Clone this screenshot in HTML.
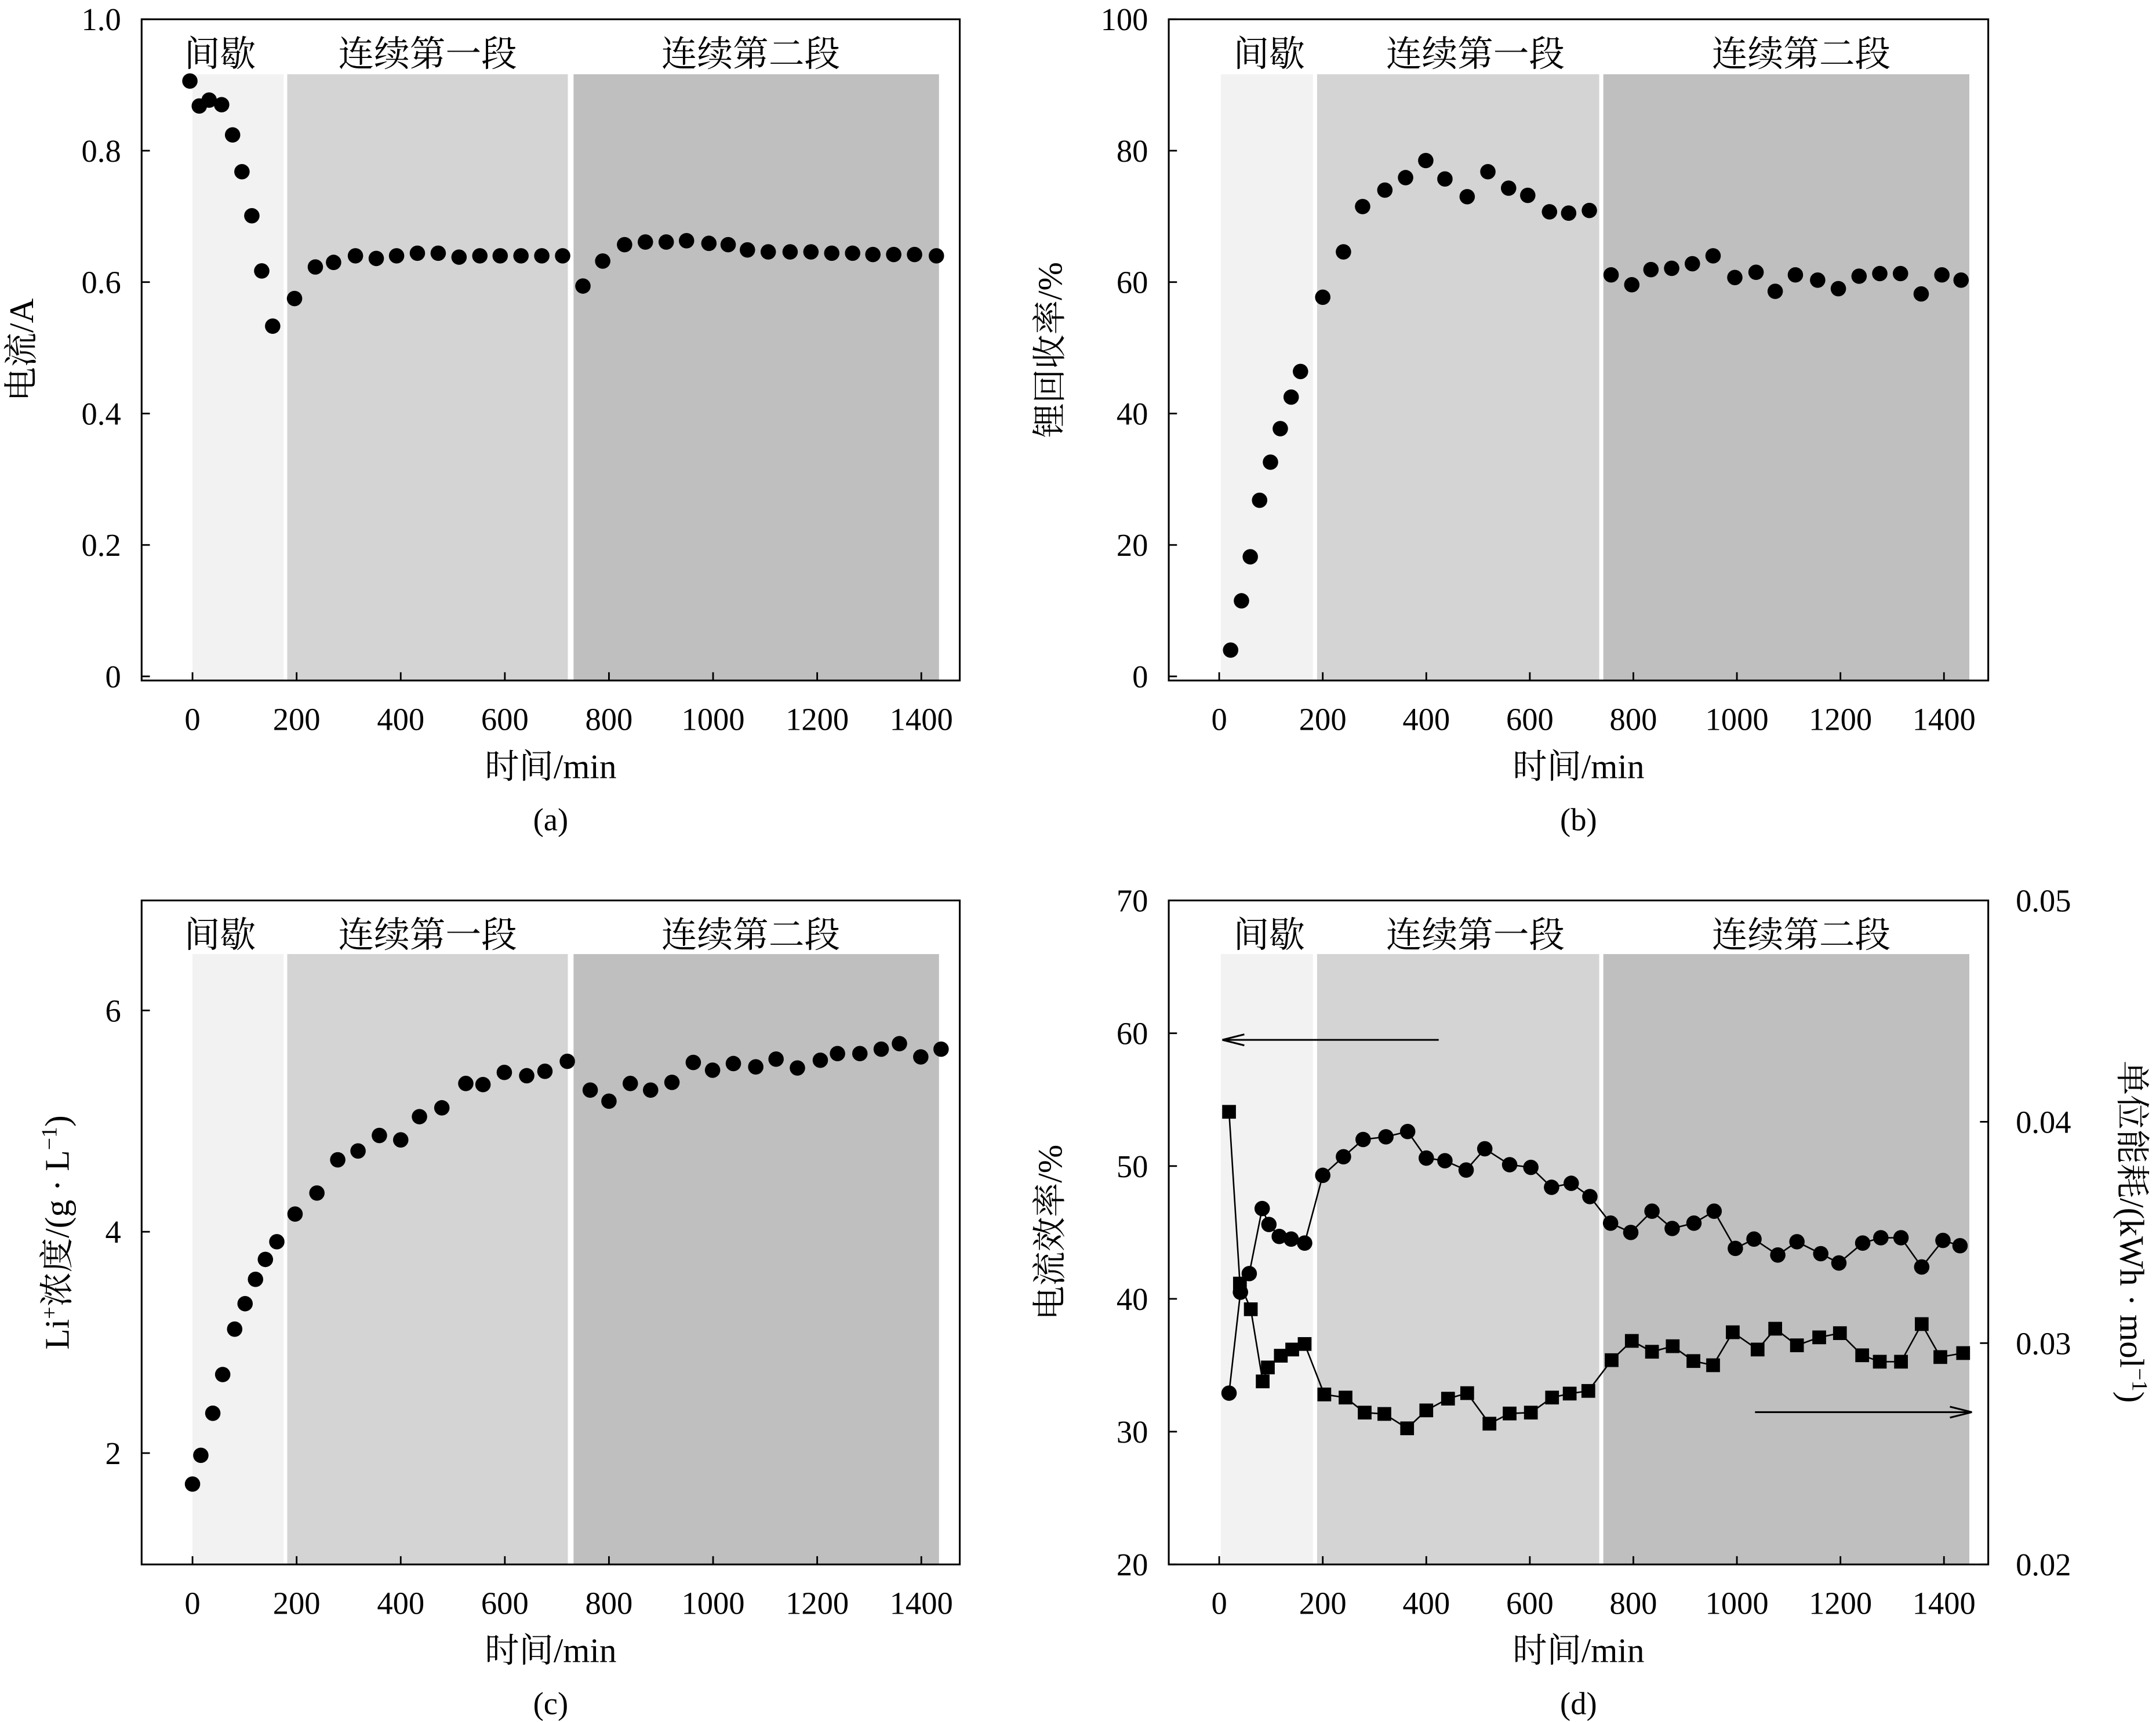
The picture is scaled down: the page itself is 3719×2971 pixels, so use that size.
<!DOCTYPE html>
<html><head><meta charset="utf-8">
<style>
html,body{margin:0;padding:0;background:#fff;}
svg{display:block;font-family:"Liberation Serif","Noto Serif CJK SC",serif;}
</style></head>
<body>
<svg id="chart" width="3719" height="2971" viewBox="0 0 1568 1252.6" xmlns="http://www.w3.org/2000/svg"></svg>
<script>
// ---- data (a) current ----
const aTime = [-5,13,32,56,77,95,114,133,154,196,236,271,313,353,392,432,472,512,552,591,631,671,711,750,788,830,870,910,949,992,1029,1066,1106,1148,1188,1228,1268,1307,1347,1387,1429];
const aCurrent = [0.906,0.868,0.877,0.870,0.824,0.768,0.701,0.617,0.533,0.575,0.623,0.630,0.640,0.636,0.640,0.644,0.644,0.638,0.640,0.640,0.640,0.640,0.640,0.594,0.632,0.657,0.661,0.661,0.663,0.659,0.657,0.649,0.646,0.646,0.646,0.644,0.644,0.642,0.642,0.642,0.640];
// ---- data (b) Li recovery ----
const bTime = [22,43,60,78,99,118,139,157,200,240,277,320,360,399,436,479,519,559,596,638,675,715,757,797,834,874,914,954,996,1037,1074,1113,1156,1196,1236,1276,1316,1356,1396,1433];
const bRecovery = [4,11.5,18.2,26.8,32.6,37.7,42.5,46.4,57.7,64.6,71.5,74,75.9,78.5,75.7,73,76.8,74.3,73.2,70.7,70.5,70.9,61.1,59.6,61.9,62.1,62.8,64,60.7,61.5,58.6,61.1,60.3,59,60.9,61.3,61.3,58.2,61.1,60.3];
// ---- data (c) Li+ concentration ----
const cTime = [0,16,39,58,81,101,121,140,162,197,239,279,318,359,400,436,479,525,558,599,642,677,720,764,800,841,880,921,962,999,1039,1082,1121,1162,1206,1239,1282,1323,1358,1399,1438];
const cConc = [1.72,1.98,2.36,2.71,3.12,3.35,3.57,3.75,3.91,4.16,4.35,4.65,4.73,4.87,4.83,5.04,5.12,5.34,5.33,5.44,5.41,5.45,5.54,5.28,5.18,5.34,5.28,5.35,5.53,5.46,5.52,5.49,5.56,5.48,5.55,5.61,5.61,5.65,5.70,5.58,5.65];
// ---- data (d) current efficiency & energy ----
const dEffTime = [19,41,58,83,96,116,139,165,200,240,278,322,364,400,436,477,513,561,602,642,680,716,756,795,836,875,917,956,997,1033,1079,1116,1162,1197,1243,1278,1317,1357,1398,1431];
const dEfficiency = [32.9,40.5,41.9,46.8,45.6,44.7,44.5,44.2,49.3,50.7,52.0,52.2,52.6,50.6,50.4,49.7,51.3,50.1,49.9,48.4,48.7,47.7,45.7,45.0,46.6,45.3,45.7,46.6,43.8,44.5,43.3,44.3,43.4,42.7,44.2,44.6,44.6,42.4,44.4,44.0];
const dEnTime = [19,40,61,84,94,119,141,165,203,244,281,319,363,400,442,479,522,561,602,643,677,713,758,797,836,876,916,954,992,1040,1074,1116,1159,1199,1242,1276,1317,1357,1393,1437];
const dEnergy = [0.04045,0.03269,0.03153,0.02827,0.0289,0.02943,0.02971,0.02996,0.02768,0.02754,0.02686,0.0268,0.02615,0.02696,0.02749,0.02774,0.02636,0.02682,0.02686,0.02754,0.02772,0.02784,0.02923,0.0301,0.02961,0.02986,0.02919,0.029,0.03049,0.02971,0.03065,0.0299,0.03026,0.03045,0.02945,0.02916,0.02916,0.03086,0.02937,0.02955];
const xTicks = [0,200,400,600,800,1000,1200,1400];
const regionNames = ["间歇","连续第一段","连续第二段"];
const regionStartL = [0,182,732];
const regionEndL = [175,721,1434];
const regionStartR = [3,189,742];
const regionEndR = [181,734,1449];
const regionFill = ["#f2f2f2","#d4d4d4","#bfbfbf"];

const NS="http://www.w3.org/2000/svg";
const svg=document.getElementById('chart');
function mk(tag,attrs,parent,text){const e=document.createElementNS(NS,tag);for(const k in attrs)e.setAttribute(k,attrs[k]);if(text!==undefined)e.textContent=text;(parent||svg).appendChild(e);return e;}

function panel(cfg){
  const g=mk('g',{});
  
  
  const X=t=>cfg.x0+t*cfg.k;
  const Y=v=>cfg.yA+(v-cfg.vA)*(cfg.yB-cfg.yA)/(cfg.vB-cfg.vA);
  for(let i=0;i<3;i++){
    const r=mk('rect',{x:X(cfg.rs[i]),y:cfg.shTop,width:X(cfg.re[i])-X(cfg.rs[i]),height:cfg.bot-cfg.shTop,fill:regionFill[i]},g);
    
    
    const tx=mk('text',{x:cfg.labelX[i],y:cfg.top+34,'font-size':26,'text-anchor':'middle'},g,regionNames[i]);
    
    
  }
  const fr=mk('rect',{x:cfg.left,y:cfg.top,width:cfg.right-cfg.left,height:cfg.bot-cfg.top,fill:'none',stroke:'#000','stroke-width':1.3},g);
  
  
  xTicks.forEach(t=>{
    mk('line',{x1:X(t),x2:X(t),y1:cfg.bot,y2:cfg.bot-6,stroke:'#000','stroke-width':1.2},g);
    const l=mk('text',{x:X(t),y:cfg.bot+36,'font-size':23,'text-anchor':'middle'},g,String(t));
    
    
  });
  const xt=mk('text',{x:(cfg.left+cfg.right)/2,y:cfg.bot+71,'font-size':25,'text-anchor':'middle'},g,'时间/min');
  
  
  const cp=mk('text',{x:(cfg.left+cfg.right)/2,y:cfg.bot+109,'font-size':23,'text-anchor':'middle'},g,cfg.cap);
  
  
  cfg.yTicks.forEach((v,i)=>{
    mk('line',{x1:cfg.left,x2:cfg.left+6,y1:Y(v),y2:Y(v),stroke:'#000','stroke-width':1.2},g);
    const l=mk('text',{x:cfg.left-15,y:Y(v)+8,'font-size':23,'text-anchor':'end'},g,cfg.yLabels[i]);
    
    
  });
  const yt=mk('text',{x:0,y:0,'font-size':25,'text-anchor':'middle',transform:`translate(${cfg.yTitleX},${(cfg.top+cfg.bot)/2}) rotate(-90)`},g);
  
  
  yt.innerHTML=cfg.yTitle;
  return {g,X,Y};
}
function dots(p,ts,vs,Yf,name,line,shape){
  const gg=mk('g',{},p.g);
  
  
  if(line){
    mk('polyline',{points:ts.map((t,i)=>p.X(t)+','+Yf(vs[i])).join(' '),fill:'none',stroke:'#000','stroke-width':1.1},gg);
  }
  ts.forEach((t,i)=>{
    let m;
    if(shape==='sq') m=mk('rect',{x:p.X(t)-5,y:Yf(vs[i])-5,width:10,height:10,fill:'#000'},gg);
    else m=mk('circle',{cx:p.X(t),cy:Yf(vs[i]),r:5.6,fill:'#000'},gg);
    
    
  });
}
const labL=[160,311,546], labR=[923,1073,1310];
const pa=panel({name:'panel-a-current',left:103,right:698,top:14,bot:495,shTop:54,x0:140,k:0.3786,yA:492,vA:0,yB:14,vB:1,labelX:labL,rs:regionStartL,re:regionEndL,
  yTicks:[0,0.2,0.4,0.6,0.8,1.0],yLabels:['0','0.2','0.4','0.6','0.8','1.0'],yTitle:'电流/A',yTitleX:24,cap:'(a)'});
dots(pa,aTime,aCurrent,pa.Y,'current-series',false,'c');
const pb=panel({name:'panel-b-recovery',left:850,right:1446,top:14,bot:495,shTop:54,x0:886.7,k:0.3765,yA:492,vA:0,yB:14,vB:100,labelX:labR,rs:regionStartR,re:regionEndR,
  yTicks:[0,20,40,60,80,100],yLabels:['0','20','40','60','80','100'],yTitle:'锂回收率/%',yTitleX:772,cap:'(b)'});
dots(pb,bTime,bRecovery,pb.Y,'recovery-series',false,'c');
const pc=panel({name:'panel-c-concentration',left:103,right:698,top:655,bot:1138,shTop:694,x0:140,k:0.3786,yA:735,vA:6,yB:896,vB:4,labelX:labL,rs:regionStartL,re:regionEndL,
  yTicks:[2,4,6],yLabels:['2','4','6'],yTitle:'Li<tspan baseline-shift="super" font-size="16">+</tspan>浓度/(g · L<tspan baseline-shift="super" font-size="16">−1</tspan>)',yTitleX:50,cap:'(c)'});
dots(pc,cTime,cConc,pc.Y,'concentration-series',false,'c');
const pd=panel({name:'panel-d-efficiency',left:850,right:1446,top:655,bot:1138,shTop:694,x0:886.7,k:0.3765,yA:751.6,vA:60,yB:848.2,vB:50,labelX:labR,rs:regionStartR,re:regionEndR,
  yTicks:[20,30,40,50,60,70],yLabels:['20','30','40','50','60','70'],yTitle:'电流效率/%',yTitleX:772,cap:'(d)'});
const YR=v=>655+(0.05-v)*(1138-655)/0.03;
const rTicks=[0.02,0.03,0.04,0.05];
rTicks.forEach(v=>{
  mk('line',{x1:1446,x2:1440,y1:YR(v),y2:YR(v),stroke:'#000','stroke-width':1.2},pd.g);
  const l=mk('text',{x:1466,y:YR(v)+8,'font-size':23},pd.g,v.toFixed(2));
  
  
});
const ryt=mk('text',{x:0,y:0,'font-size':25,'text-anchor':'middle',transform:'translate(1542,896) rotate(90)'},pd.g);


ryt.innerHTML='单位能耗/(kWh · mol<tspan baseline-shift="super" font-size="16">−1</tspan>)';
dots(pd,dEffTime,dEfficiency,pd.Y,'efficiency-series',true,'c');
dots(pd,dEnTime,dEnergy,YR,'energy-series',true,'sq');
function arrow(x1,x2,y,name){
  const g=mk('g',{},pd.g);
  
  
  mk('line',{x1:x1,x2:x2,y1:y,y2:y,stroke:'#000','stroke-width':1.3},g);
  const d=x2>x1?1:-1;
  mk('path',{d:`M${x2},${y} L${x2-d*16},${y-4} M${x2},${y} L${x2-d*16},${y+4}`,stroke:'#000','stroke-width':1.3,fill:'none'},g);
}
arrow(pd.X(424),pd.X(6),pd.Y(59.5),'left-axis-arrow');
arrow(pd.X(1035),pd.X(1454),YR(0.02688),'right-axis-arrow');
</script>
</body></html>
